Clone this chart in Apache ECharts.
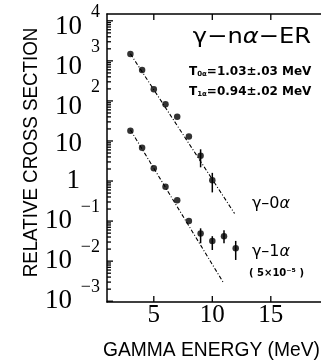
<!DOCTYPE html>
<html>
<head>
<meta charset="utf-8">
<script src="https://cdn.jsdelivr.net/npm/echarts@6/dist/echarts.min.js"></script>
<style>html,body{margin:0;padding:0;background:#fff}#chart{width:321px;height:364px}</style>
</head>
<body>
<div id="chart"></div>
<script>
// gamma-0alpha
const energy0 = [3, 4, 5, 6, 7, 8, 9, 10];
const sigma0 = [1480, 590, 195, 83, 40, 13, 4.3, 1.05];
const errE0 = [9, 10];
const errLo0 = [2.2, 0.52];
const errHi0 = [6.2, 1.6];
const fitE0 = [3, 11.9];
const fitS0 = [1500, 0.155];
// gamma-1alpha (scaled by 5x10^-5)
const energy1 = [3, 4, 5, 6, 7, 8, 9, 10, 11, 12];
const sigma1 = [18, 6.8, 2.1, 0.72, 0.33, 0.10, 0.049, 0.032, 0.042, 0.021];
const errE1 = [9, 10, 11, 12];
const errLo1 = [0.028, 0.019, 0.028, 0.0107];
const errHi1 = [0.066, 0.042, 0.059, 0.032];
const fitE1 = [3, 10.95];
const fitS1 = [19, 0.0029];

const xTicks = [5, 10, 15];
const yTicks = [0.001, 0.01, 0.1, 1, 10, 100, 1000, 10000];
const yTickBase = ['10', '10', '10', '1', '10', '10', '10', '10'];
const yTickExp = ['−3', '−2', '−1', '', '', '2', '3', '4'];

const xMin = 1, xMax = 19.29;
const yMin = Math.pow(10, -3.02), yMax = Math.pow(10, 4.17);
const yMinor = [];
for (let e = -4; e <= 4; e++) {
  for (let k = 2; k <= 9; k++) {
    const v = k * Math.pow(10, e);
    if (v > yMin && v < yMax) yMinor.push(v);
  }
}

const serif = "'Liberation Serif', 'Times New Roman', serif";
const sans = "'Liberation Sans', Arial, sans-serif";
const dv = "'DejaVu Sans', sans-serif";

const zip = (xs, ys) => xs.map((x, i) => [x, ys[i]]);
const tickIndex = v => yTicks.findIndex(t => Math.abs(Math.log10(t) - Math.log10(v)) < 1e-6);

function errorBars(xs, lo, hi) {
  return {
    type: 'custom',
    data: xs.map((x, i) => [x, lo[i], hi[i]]),
    renderItem: (params, api) => {
      const a = api.coord([api.value(0), api.value(1)]);
      const b = api.coord([api.value(0), api.value(2)]);
      return { type: 'line', shape: { x1: a[0], y1: a[1], x2: b[0], y2: b[1] }, style: { stroke: '#000', lineWidth: 1.5 } };
    },
    z: 3
  };
}

// inward tick marks placed through the axis scales
function tickMarks(points, dx, dy) {
  return {
    type: 'custom', clip: false, z: 5,
    data: points,
    renderItem: (params, api) => {
      const p = api.coord([api.value(0), api.value(1)]);
      return { type: 'line', shape: { x1: p[0], y1: p[1], x2: p[0] + dx, y2: p[1] + dy }, style: { stroke: '#000', lineWidth: 1.3 } };
    }
  };
}

// "10" / "1" part of the tick label
function baseLabel(v) {
  const i = tickIndex(v);
  if (i < 0) return '';
  const exp = yTickExp[i];
  if (!exp) return (yTickBase[i] === '1' ? '{o|' : '{p|') + yTickBase[i] + '}';
  if (exp[0] === '−') return '{n|' + yTickBase[i] + '}';
  return '{q|' + yTickBase[i] + '}';
}
// exponent part, drawn by the second y axis
function expLabel(v) {
  const i = tickIndex(v);
  if (i < 0 || !yTickExp[i]) return '';
  return (i === yTicks.length - 1 ? '{t|' : '{e|') + yTickExp[i] + '}';
}

const chart = echarts.init(document.getElementById('chart'));
const axisLine = { show: true, lineStyle: { color: '#000', width: 1.5 } };

chart.setOption({
  animation: false,
  grid: { left: 107, right: 0, top: 14, bottom: 62, outerBoundsMode: 'none', containLabel: false },
  xAxis: [
    {
      type: 'value', position: 'bottom', min: xMin, max: xMax,
      axisLine, splitLine: { show: false }, axisTick: { show: false },
      axisLabel: { customValues: xTicks, margin: 1, color: '#000', fontFamily: serif, fontSize: 25 }
    },
    {
      type: 'value', position: 'top', min: xMin, max: xMax,
      axisLine, splitLine: { show: false }, axisTick: { show: false },
      axisLabel: { show: false }
    }
  ],
  yAxis: [
    {
      type: 'log', logBase: 10, min: yMin, max: yMax, position: 'left',
      axisLine, splitLine: { show: false }, axisTick: { show: false },
      axisLabel: {
        customValues: yTicks, margin: 7, color: '#000', fontFamily: serif,
        showMinLabel: true, showMaxLabel: true, hideOverlap: false,
        formatter: baseLabel,
        rich: {
          p: { fontFamily: serif, fontSize: 27, lineHeight: 27, padding: [6, 18, 0, 0], color: '#000' },
          o: { fontFamily: serif, fontSize: 27, lineHeight: 27, padding: [0, 20, 0, 0], color: '#000' },
          n: { fontFamily: serif, fontSize: 27, lineHeight: 27, padding: [0, 28, 0, 0], color: '#000' },
          q: { fontFamily: serif, fontSize: 27, lineHeight: 27, padding: [12, 18, 0, 0], color: '#000' }
        }
      }
    },
    {
      type: 'log', logBase: 10, min: yMin, max: yMax, position: 'left',
      axisLine: { show: false }, splitLine: { show: false }, axisTick: { show: false },
      axisLabel: {
        customValues: yTicks, margin: 7, color: '#000', verticalAlign: 'bottom',
        showMinLabel: true, showMaxLabel: true, hideOverlap: false,
        formatter: expLabel,
        rich: {
          e: { fontFamily: serif, fontSize: 18, lineHeight: 18, padding: [0, 0, 9, 0], color: '#000' },
          t: { fontFamily: serif, fontSize: 18, lineHeight: 18, padding: [0, 0, 0, 0], color: '#000' }
        }
      }
    }
  ],
  series: [
    tickMarks(yMinor.map(v => [xMin, v]), 4, 0),
    tickMarks(yTicks.map(v => [xMin, v]), 6, 0),
    tickMarks(xTicks.map(v => [v, yMin]), 0, -6),
    tickMarks(xTicks.map(v => [v, yMax]), 0, 6),
    {
      type: 'line', data: zip(fitE0, fitS0), showSymbol: false, silent: true,
      lineStyle: { color: '#000', width: 1.1, type: [4, 2, 1, 2] }
    },
    {
      type: 'line', data: zip(fitE1, fitS1), showSymbol: false, silent: true,
      lineStyle: { color: '#000', width: 1.1, type: [4, 2, 1, 2] }
    },
    errorBars(errE0, errLo0, errHi0),
    errorBars(errE1, errLo1, errHi1),
    {
      type: 'scatter', data: zip(energy0, sigma0), symbol: 'circle', symbolSize: 6.5,
      itemStyle: { color: '#000' }, z: 4
    },
    {
      type: 'scatter', data: zip(energy1, sigma1), symbol: 'circle', symbolSize: 6.5,
      itemStyle: { color: '#000' }, z: 4
    }
  ],
  graphic: [
    {
      type: 'text', x: 31, y: 152.5, rotation: Math.PI / 2, scaleX: 0.893,
      style: { text: 'RELATIVE CROSS SECTION', font: '21px ' + sans, fill: '#000', align: 'center', verticalAlign: 'middle' }
    },
    {
      type: 'text', x: 211.5, y: 350.5, scaleX: 0.916,
      style: { text: 'GAMMA ENERGY (MeV)', font: '21px ' + sans, fill: '#000', align: 'center', verticalAlign: 'middle' }
    },
    {
      type: 'text', x: 252, y: 37, scaleX: 1.1,
      style: {
        text: '{g|γ−n}{a|α}{g|−ER}', align: 'center', verticalAlign: 'middle',
        rich: {
          g: { fontFamily: dv, fontSize: 22, fill: '#000' },
          a: { fontFamily: dv, fontSize: 22, fontStyle: 'italic', fill: '#000' }
        }
      }
    },
    {
      type: 'text', x: 189, y: 72,
      style: {
        text: '{t|T}{s|0α}{t|=1.03±.03 MeV}', align: 'left', verticalAlign: 'middle',
        rich: {
          t: { fontFamily: dv, fontSize: 12, fontWeight: 'bold', fill: '#000', verticalAlign: 'bottom' },
          s: { fontFamily: dv, fontSize: 7, fontWeight: 'bold', fill: '#000', verticalAlign: 'bottom' }
        }
      }
    },
    {
      type: 'text', x: 189, y: 91.5,
      style: {
        text: '{t|T}{s|1α}{t|=0.94±.02 MeV}', align: 'left', verticalAlign: 'middle',
        rich: {
          t: { fontFamily: dv, fontSize: 12, fontWeight: 'bold', fill: '#000', verticalAlign: 'bottom' },
          s: { fontFamily: dv, fontSize: 7, fontWeight: 'bold', fill: '#000', verticalAlign: 'bottom' }
        }
      }
    },
    {
      type: 'text', x: 271, y: 204,
      style: {
        text: '{g|γ–0}{a|α}', align: 'center', verticalAlign: 'middle',
        rich: {
          g: { fontFamily: dv, fontSize: 16, fill: '#000' },
          a: { fontFamily: dv, fontSize: 16, fontStyle: 'italic', fill: '#000' }
        }
      }
    },
    {
      type: 'text', x: 271, y: 252,
      style: {
        text: '{g|γ–1}{a|α}', align: 'center', verticalAlign: 'middle',
        rich: {
          g: { fontFamily: dv, fontSize: 16, fill: '#000' },
          a: { fontFamily: dv, fontSize: 16, fontStyle: 'italic', fill: '#000' }
        }
      }
    },
    {
      type: 'text', x: 276.5, y: 273,
      style: { text: '( 5×10⁻⁵ )', font: 'bold 10px ' + dv, fill: '#000', align: 'center', verticalAlign: 'middle' }
    }
  ]
});
</script>
</body>
</html>
